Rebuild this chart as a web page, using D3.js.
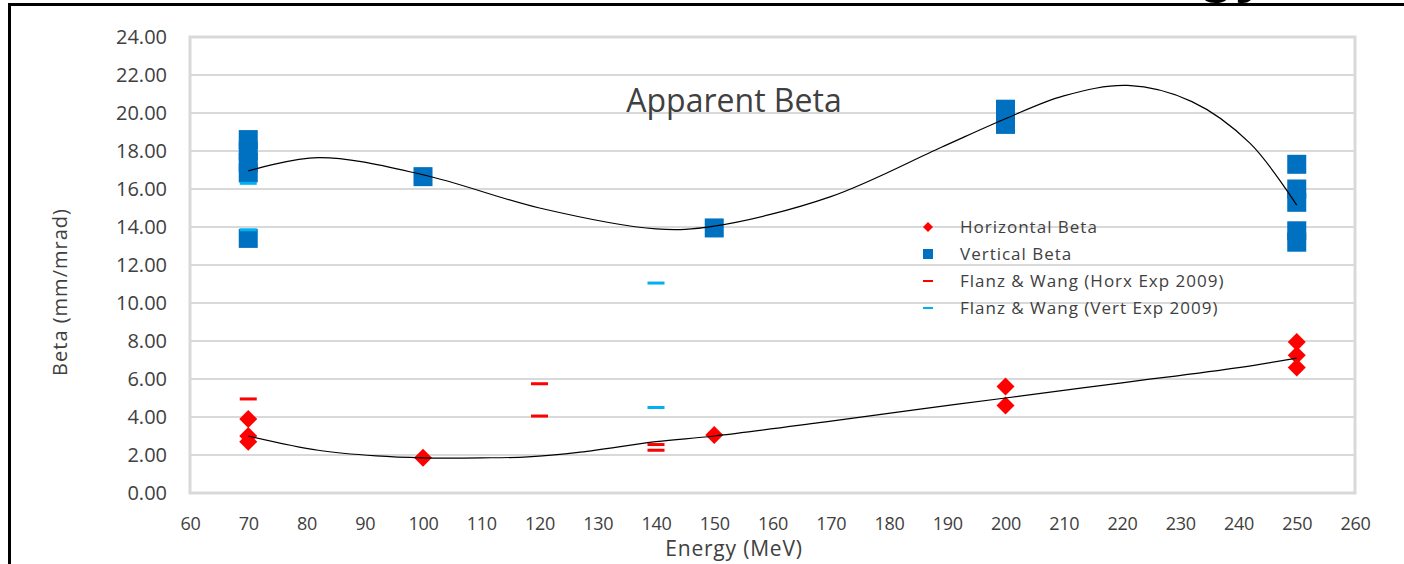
<!DOCTYPE html>
<html>
<head>
<meta charset="utf-8">
<script src="https://cdn.jsdelivr.net/npm/d3@7"></script>
<style>
    body { margin: 0; background: #fff; }
    svg text { font-family: "Open Sans", "Noto Sans", sans-serif; fill: #404040; }
</style>
</head>
<body>
<script>
// ticks
var xTicks = [60, 70, 80, 90, 100, 110, 120, 130, 140, 150, 160, 170, 180, 190, 200, 210, 220, 230, 240, 250, 260];
var yTicks = [0, 2, 4, 6, 8, 10, 12, 14, 16, 18, 20, 22, 24];

// Horizontal Beta (red diamonds)
var hbEnergy = [70, 70, 70, 100, 150, 200, 200, 250, 250, 250];
var hbBeta   = [3.9, 3.0, 2.7, 1.85, 3.05, 5.6, 4.6, 7.95, 7.25, 6.6];

// Vertical Beta (blue squares)
var vbEnergy = [70, 70, 70, 70, 70, 100, 150, 200, 200, 250, 250, 250, 250, 250];
var vbBeta   = [18.6, 18.0, 17.4, 16.85, 13.4, 16.65, 13.95, 20.2, 19.4, 17.3, 16.0, 15.3, 13.8, 13.2];

// Flanz & Wang (Horx Exp 2009)
var fwhEnergy = [70, 120, 120, 140, 140];
var fwhBeta   = [4.95, 5.75, 4.05, 2.55, 2.25];

// Flanz & Wang (Vert Exp 2009)
var fwvEnergy = [70, 70, 140, 140];
var fwvBeta   = [16.3, 13.85, 11.05, 4.5];

// trend lines
var vTrendE = [70, 82, 100, 120, 140, 150, 170, 189, 200, 210, 221, 232, 242, 250];
var vTrendB = [16.95, 17.65, 16.75, 15.0, 13.9, 14.05, 15.6, 18.2, 19.7, 20.9, 21.45, 20.6, 18.4, 15.15];
var hTrendE = [70, 82, 92, 100, 110, 118, 127, 140, 150, 168, 185, 200, 220, 240, 250];
var hTrendB = [3.0, 2.25, 1.95, 1.85, 1.85, 1.9, 2.15, 2.7, 3.0, 3.7, 4.4, 5.0, 5.8, 6.6, 7.1];

var legendNames = ["Horizontal Beta", "Vertical Beta", "Flanz & Wang (Horx Exp 2009)", "Flanz & Wang (Vert Exp 2009)"];

var W = 1404, H = 564;
var plotL = 190, plotR = 1355, plotT = 37, plotB = 493;

var svg = d3.select("body").append("svg")
    .attr("width", W)
    .attr("height", H);

var x = d3.scaleLinear().domain([60, 260]).range([plotL, plotR]);
var y = d3.scaleLinear().domain([0, 24]).range([plotB, plotT]);

function zip(a, b) {
    return a.map(function (d, i) { return {e: d, b: b[i]}; });
}

/* frame of the slide */
svg.append("line").attr("x1", 8).attr("x2", W).attr("y1", 4.5).attr("y2", 4.5)
    .attr("stroke", "#000").attr("stroke-width", 3);
svg.append("line").attr("x1", 9.5).attr("x2", 9.5).attr("y1", 3).attr("y2", H)
    .attr("stroke", "#000").attr("stroke-width", 3);

// clipped bottom of a heading above the frame
svg.append("text")
    .attr("x", 1198).attr("y", -9)
    .style("font-family", "'Liberation Sans', sans-serif")
    .style("font-weight", "bold")
    .style("font-size", "60px")
    .style("fill", "#000")
    .text("gy");

/* grid */
svg.selectAll("line.grid")
    .data(yTicks)
    .enter()
    .append("line")
    .attr("class", "grid")
    .attr("x1", plotL).attr("x2", plotR)
    .attr("y1", function (d) { return y(d); })
    .attr("y2", function (d) { return y(d); })
    .attr("stroke", "#d9d9d9")
    .attr("stroke-width", 2);

svg.append("rect")
    .attr("x", plotL).attr("y", plotT)
    .attr("width", plotR - plotL).attr("height", plotB - plotT)
    .attr("fill", "none")
    .attr("stroke", "#d9d9d9")
    .attr("stroke-width", 3);

/* axes */
var yAxis = svg.append("g")
    .attr("transform", "translate(" + plotL + ",0)")
    .call(d3.axisLeft(y).tickValues(yTicks).tickFormat(d3.format(".2f")).tickSize(0).tickPadding(23));
yAxis.select(".domain").remove();
yAxis.attr("font-family", null);
yAxis.selectAll("text")
    .style("font-size", "20px")
    .attr("fill", "#404040");

var xAxis = svg.append("g")
    .attr("transform", "translate(0," + plotB + ")")
    .call(d3.axisBottom(x).tickValues(xTicks).tickSize(0).tickPadding(24));
xAxis.select(".domain").remove();
xAxis.attr("font-family", null);
xAxis.selectAll("text")
    .style("font-size", "18px")
    .style("letter-spacing", "-0.3px")
    .attr("fill", "#404040");

svg.append("text")
    .attr("x", 734).attr("y", 556)
    .attr("text-anchor", "middle")
    .style("font-size", "21px")
    .style("letter-spacing", "0.8px")
    .text("Energy (MeV)");

svg.append("text")
    .attr("transform", "translate(67,292) rotate(-90)")
    .attr("text-anchor", "middle")
    .style("font-size", "20px")
    .style("letter-spacing", "1px")
    .text("Beta (mm/mrad)");

svg.append("text")
    .attr("x", 734).attr("y", 112)
    .attr("text-anchor", "middle")
    .style("font-size", "32px")
    .text("Apparent Beta");

/* markers */
var diamond = "M0,-9L9,0L0,9L-9,0Z";

svg.selectAll("path.hb")
    .data(zip(hbEnergy, hbBeta))
    .enter()
    .append("path")
    .attr("class", "hb")
    .attr("d", diamond)
    .attr("transform", function (d) { return "translate(" + x(d.e) + "," + y(d.b) + ")"; })
    .attr("fill", "#ff0000");

svg.selectAll("rect.vb")
    .data(zip(vbEnergy, vbBeta))
    .enter()
    .append("rect")
    .attr("class", "vb")
    .attr("x", function (d) { return x(d.e) - 9.5; })
    .attr("y", function (d) { return y(d.b) - 9.5; })
    .attr("width", 19).attr("height", 19)
    .attr("fill", "#0070c0");

function drawDashes(list, cls, color) {
    svg.selectAll("rect." + cls)
        .data(list)
        .enter()
        .append("rect")
        .attr("class", cls)
        .attr("x", function (d) { return x(d.e) - 8.5; })
        .attr("y", function (d) { return y(d.b) - 1.5; })
        .attr("width", 17).attr("height", 3)
        .attr("fill", color);
}
drawDashes(zip(fwhEnergy, fwhBeta), "fwh", "#ff0000");
drawDashes(zip(fwvEnergy, fwvBeta), "fwv", "#00b0f0");

/* trend lines */
var trend = d3.line()
    .x(function (d) { return x(d.e); })
    .y(function (d) { return y(d.b); })
    .curve(d3.curveCatmullRom);

svg.append("path").datum(zip(vTrendE, vTrendB))
    .attr("d", trend).attr("fill", "none")
    .attr("stroke", "#000").attr("stroke-width", 1.2);
svg.append("path").datum(zip(hTrendE, hTrendB))
    .attr("d", trend).attr("fill", "none")
    .attr("stroke", "#000").attr("stroke-width", 1.2);

/* legend */
var legY = [227, 254, 281, 308];
var leg = svg.selectAll("g.leg")
    .data(legendNames)
    .enter()
    .append("g")
    .attr("class", "leg")
    .attr("transform", function (d, i) { return "translate(928," + legY[i] + ")"; });

leg.append("text")
    .attr("x", 32).attr("dy", "0.35em")
    .style("font-size", "17px")
    .style("letter-spacing", "1px")
    .text(function (d) { return d; });

leg.filter(function (d, i) { return i === 0; }).append("path")
    .attr("d", "M0,-5L5,0L0,5L-5,0Z").attr("fill", "#ff0000");
leg.filter(function (d, i) { return i === 1; }).append("rect")
    .attr("x", -5).attr("y", -5).attr("width", 10).attr("height", 10).attr("fill", "#0070c0");
leg.filter(function (d, i) { return i === 2; }).append("rect")
    .attr("x", -5).attr("y", -1).attr("width", 10).attr("height", 2).attr("fill", "#ff0000");
leg.filter(function (d, i) { return i === 3; }).append("rect")
    .attr("x", -5).attr("y", -1).attr("width", 10).attr("height", 2).attr("fill", "#00b0f0");
</script>
</body>
</html>
